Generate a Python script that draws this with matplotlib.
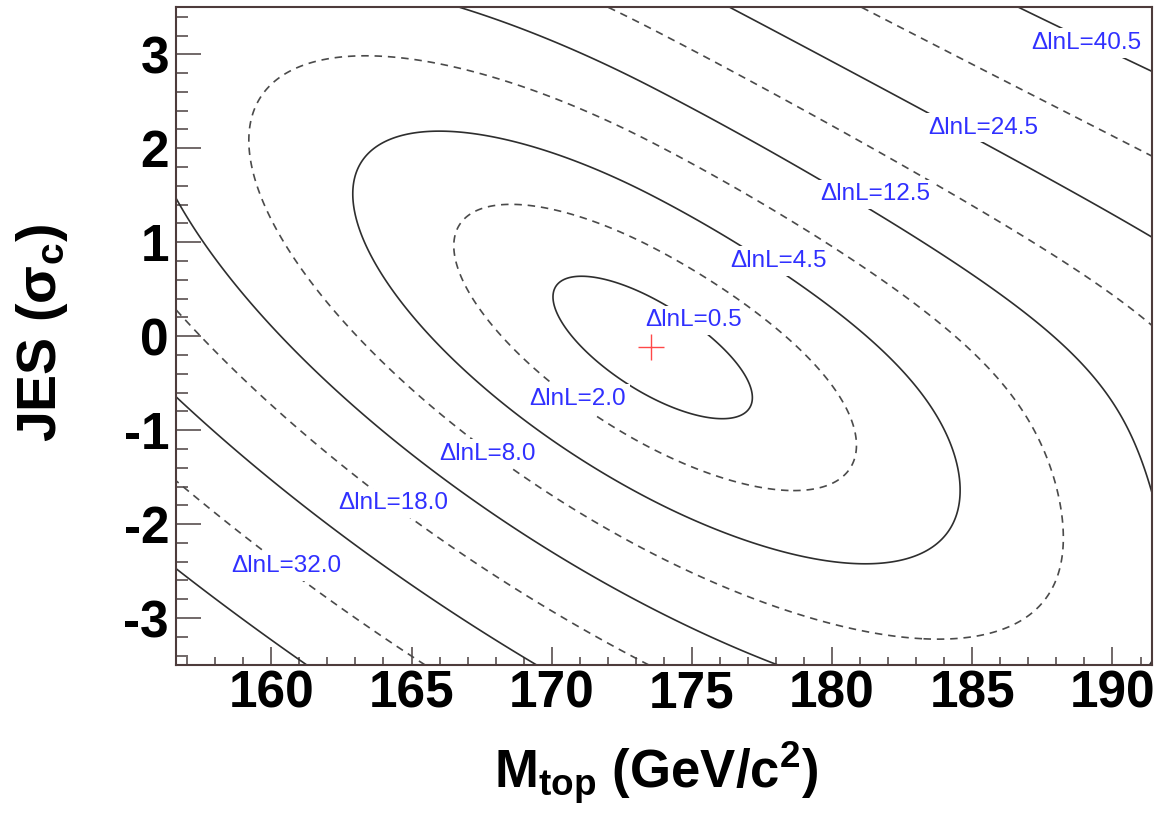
import numpy as np
import matplotlib
matplotlib.use("Agg")
import matplotlib.pyplot as plt
from matplotlib.ticker import MultipleLocator

plt.rcParams['font.family'] = ['Liberation Sans', 'DejaVu Sans']
plt.rcParams['axes.unicode_minus'] = False
plt.rcParams['mathtext.fontset'] = 'custom'
plt.rcParams['mathtext.rm'] = 'Liberation Sans:bold'
plt.rcParams['mathtext.bf'] = 'Liberation Sans:bold'
plt.rcParams['mathtext.it'] = 'Liberation Sans:bold'

# fit result and shape of the likelihood
m_fit, jes_fit = 173.55, -0.12
sig_m, sig_jes, rho = 3.5, 0.757, -0.71
soften = 0.0015                                  # contours open up far from the minimum
skew_max, skew_v0, skew_w = 0.048, -1.0, 0.9     # wider on the high-mass / upper side

levels = [0.5, 2.0, 4.5, 8.0, 12.5, 18.0, 24.5, 32.0, 40.5]
solid_levels = [0.5, 4.5, 12.5, 24.5, 40.5]
dashed_levels = [2.0, 8.0, 18.0, 32.0]

label_text = ["ΔlnL=0.5", "ΔlnL=2.0", "ΔlnL=4.5", "ΔlnL=8.0", "ΔlnL=12.5",
              "ΔlnL=18.0", "ΔlnL=24.5", "ΔlnL=32.0", "ΔlnL=40.5"]
label_x = [175.07, 170.93, 178.09, 167.71, 181.53, 164.35, 185.38, 160.55, 189.05]
label_y = [0.17, -0.67, 0.80, -1.25, 1.51, -1.78, 2.22, -2.45, 3.12]

x_range = (156.6, 191.4)
y_range = (-3.5, 3.5)
x_ticks = [160, 165, 170, 175, 180, 185, 190]
y_ticks = [-3, -2, -1, 0, 1, 2, 3]

# likelihood surface
mt = np.linspace(x_range[0], x_range[1], 600)
jes = np.linspace(y_range[0], y_range[1], 600)
X, Y = np.meshgrid(mt, jes)
u = (X - m_fit) / sig_m
v = (Y - jes_fit) / sig_jes
a = skew_max / (1 + np.exp(-(v - skew_v0) / skew_w))
u = u / (1 + a * np.clip(u, 0, None))
m2 = (u**2 - 2 * rho * u * v + v**2) / (1 - rho**2)
nsig = np.sqrt(m2) / (1 + soften * m2)
dlnl = 0.5 * nsig**2

fig = plt.figure(figsize=(11.58, 8.17), dpi=100)
ax = fig.add_axes([0.152, 0.186, 0.8426, 0.805])

ax.contour(X, Y, dlnl, levels=solid_levels, colors='#2e2e2e', linewidths=1.2)
cs = ax.contour(X, Y, dlnl, levels=dashed_levels, colors='#4a4a4a', linewidths=1.2)
cs.set_linestyle((0, (4.5, 3.5)))

for s, lx, ly in zip(label_text, label_x, label_y):
    ax.text(lx, ly, s, ha='center', va='center', fontsize=17.5, color='#3030ff',
            bbox=dict(boxstyle='square,pad=0.15', fc='white', ec='none'), zorder=3)

ax.plot([m_fit], [jes_fit], ls='none', marker='+', ms=19, mew=1.0,
        color='#ff4848', zorder=4)

ax.set_xlim(*x_range)
ax.set_ylim(*y_range)
ax.set_xticks(x_ticks, labels=[str(t) for t in x_ticks], fontsize=37, fontweight='bold')
ax.set_yticks(y_ticks, labels=[str(t) for t in y_ticks], fontsize=37, fontweight='bold')
ax.xaxis.set_minor_locator(MultipleLocator(1))
ax.yaxis.set_minor_locator(MultipleLocator(0.2))
ax.tick_params(which='both', direction='in', top=False, right=False, color='#4a4040', width=1.1)
ax.tick_params(axis='x', which='major', length=13, pad=3)
ax.tick_params(axis='x', which='minor', length=6)
ax.tick_params(axis='y', which='major', length=18, pad=5)
ax.tick_params(axis='y', which='minor', length=8.5)
for sp in ax.spines.values():
    sp.set_color('#4d3c3c')
    sp.set_linewidth(1.5)

fig.text(0.567, 0.0355, r'M$_{\mathbf{top}}$ (GeV/c$^{\mathbf{2}}$)', fontsize=38,
         fontweight='bold', ha='center', va='baseline')
fig.text(0.036, 0.592, r'JES (σ$_{\mathbf{c}}$)', rotation=90, fontsize=40,
         fontweight='bold', ha='center', va='center')

fig.savefig("out.png", dpi=100, facecolor='white')
